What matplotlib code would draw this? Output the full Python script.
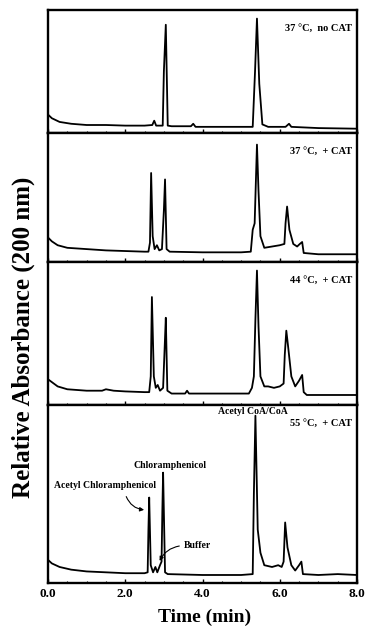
import matplotlib
matplotlib.use("Agg")
import matplotlib.pyplot as plt

plt.rcParams['font.family'] = ['Liberation Serif', 'DejaVu Serif']
plt.rcParams['font.weight'] = 'bold'

# ------------------------------
# Chromatogram traces (time in min, relative absorbance per panel)
# ------------------------------
t1 = [0, 0.1, 0.3, 0.6, 1.0, 1.5, 2.0, 2.5, 2.7, 2.75, 2.8, 2.97, 3.0, 3.05, 3.1, 3.2,
      3.7, 3.76, 3.82, 4.5, 5.3, 5.36, 5.41, 5.47, 5.55, 5.7, 6.15, 6.24, 6.3, 7.0, 8.0]
a1 = [0.15, 0.12, 0.09, 0.075, 0.065, 0.065, 0.06, 0.06, 0.065, 0.1, 0.06, 0.06, 0.5, 0.88, 0.06, 0.055,
      0.055, 0.075, 0.05, 0.05, 0.05, 0.5, 0.93, 0.4, 0.07, 0.05, 0.05, 0.075, 0.05, 0.04, 0.035]

t2 = [0, 0.1, 0.25, 0.5, 1.0, 1.5, 2.0, 2.5, 2.6, 2.64, 2.67, 2.71, 2.76, 2.82, 2.88, 2.95, 3.0,
      3.03, 3.07, 3.15, 4.0, 5.0, 5.25, 5.3, 5.35, 5.41, 5.45, 5.5, 5.6, 5.8, 6.0, 6.12, 6.15,
      6.19, 6.25, 6.35, 6.45, 6.52, 6.58, 6.62, 7.0, 8.0]
a2 = [0.19, 0.16, 0.13, 0.11, 0.1, 0.09, 0.085, 0.08, 0.08, 0.15, 0.69, 0.2, 0.1, 0.13, 0.09, 0.1, 0.4,
      0.64, 0.1, 0.08, 0.075, 0.075, 0.08, 0.25, 0.3, 0.91, 0.55, 0.2, 0.11, 0.12, 0.13, 0.14, 0.3,
      0.43, 0.25, 0.14, 0.12, 0.14, 0.155, 0.07, 0.06, 0.06]

t3 = [0, 0.1, 0.25, 0.5, 1.0, 1.4, 1.5, 1.7, 2.0, 2.5, 2.62, 2.66, 2.69, 2.74, 2.79, 2.84, 2.9,
      2.98, 3.02, 3.05, 3.09, 3.2, 3.55, 3.6, 3.65, 5.2, 5.28, 5.33, 5.37, 5.41, 5.45, 5.5, 5.6,
      5.7, 5.85, 6.0, 6.1, 6.13, 6.17, 6.22, 6.3, 6.4, 6.5, 6.58, 6.62, 6.7, 7.0, 8.0]
a3 = [0.18, 0.16, 0.13, 0.11, 0.1, 0.1, 0.11, 0.1, 0.095, 0.09, 0.09, 0.2, 0.755, 0.2, 0.12, 0.14, 0.1,
      0.12, 0.4, 0.61, 0.1, 0.08, 0.08, 0.1, 0.08, 0.08, 0.12, 0.2, 0.6, 0.94, 0.55, 0.2, 0.13,
      0.13, 0.12, 0.13, 0.15, 0.35, 0.52, 0.4, 0.2, 0.13, 0.17, 0.21, 0.09, 0.07, 0.07, 0.07]

t4 = [0, 0.1, 0.3, 0.6, 1.0, 1.5, 2.0, 2.5, 2.58, 2.6, 2.62, 2.66, 2.72, 2.78, 2.83, 2.9, 2.94,
      2.96, 2.98, 3.03, 3.1, 4.0, 5.0, 5.3, 5.33, 5.37, 5.43, 5.5, 5.6, 5.8, 5.96, 6.05, 6.1,
      6.14, 6.2, 6.3, 6.4, 6.5, 6.56, 6.6, 7.0, 7.5, 8.0]
a4 = [0.13, 0.11, 0.09, 0.075, 0.065, 0.06, 0.055, 0.055, 0.06, 0.3, 0.48, 0.1, 0.06, 0.09, 0.06, 0.1, 0.12,
      0.4, 0.62, 0.06, 0.05, 0.045, 0.045, 0.05, 0.5, 0.94, 0.3, 0.17, 0.1, 0.09, 0.1, 0.09, 0.12,
      0.34, 0.2, 0.1, 0.07, 0.1, 0.12, 0.05, 0.045, 0.05, 0.045]

times = [t1, t2, t3, t4]
absorb = [a1, a2, a3, a4]
conditions = ["37 °C,  no CAT", "37 °C,  + CAT", "44 °C,  + CAT", "55 °C,  + CAT"]
xticks = [0.0, 2.0, 4.0, 6.0, 8.0]

# panel heights in pixels (from reference)
heights = [123, 129, 143, 178]

fig = plt.figure(figsize=(3.65, 6.27), dpi=100)
gs = fig.add_gridspec(4, 1, height_ratios=heights, hspace=0,
                      left=48 / 365, right=357 / 365, top=1 - 10 / 627, bottom=1 - 583 / 627)

axes = []
for i in range(4):
    ax = fig.add_subplot(gs[i])
    ax.plot(times[i], absorb[i], color='black', lw=1.3)
    ax.set_xlim(0, 8)
    ax.set_ylim(0, 1)
    ax.set_yticks([])
    ax.set_xticks(xticks)
    ax.set_xticks([x * 0.5 for x in range(17)], minor=True)
    ax.tick_params(axis='x', direction='in', length=3, width=1, labelsize=9.5)
    ax.tick_params(axis='x', which='minor', direction='in', length=1.5, width=0.8)
    for s in ax.spines.values():
        s.set_linewidth(1.7)
    if i < 3:
        ax.set_xticklabels([])
    else:
        ax.set_xticklabels(["%.1f" % x for x in xticks], fontweight='bold')
    ax.text(0.985, 1 - 18 / heights[i], conditions[i], transform=ax.transAxes,
            ha='right', va='center', fontsize=7.5, fontweight='bold')
    axes.append(ax)

ax = axes[3]
ax.text(5.31, 0.965, "Acetyl CoA/CoA", ha='center', va='center', fontsize=7, fontweight='bold')
ax.text(3.16, 0.66, "Chloramphenicol", ha='center', va='center', fontsize=7, fontweight='bold')
ax.text(1.48, 0.55, "Acetyl Chloramphenicol", ha='center', va='center', fontsize=7, fontweight='bold')
ax.annotate("", xy=(2.56, 0.41), xytext=(2.0, 0.5),
            arrowprops=dict(arrowstyle='-|>', color='black', lw=0.8, mutation_scale=6,
                            connectionstyle='arc3,rad=0.35'))
ax.text(3.52, 0.21, "Buffer", ha='left', va='center', fontsize=7, fontweight='bold')
ax.annotate("", xy=(2.86, 0.11), xytext=(3.47, 0.21),
            arrowprops=dict(arrowstyle='-|>', color='black', lw=0.8, mutation_scale=6,
                            connectionstyle='arc3,rad=0.3'))

fig.text(0.063, 1 - 337 / 627, "Relative Absorbance (200 nm)", rotation=90,
         ha='center', va='center', fontsize=18, fontweight='bold')
fig.text(205 / 365, 1 - 617 / 627, "Time (min)", ha='center', va='center',
         fontsize=14, fontweight='bold')

fig.savefig("out.png", dpi=100)
